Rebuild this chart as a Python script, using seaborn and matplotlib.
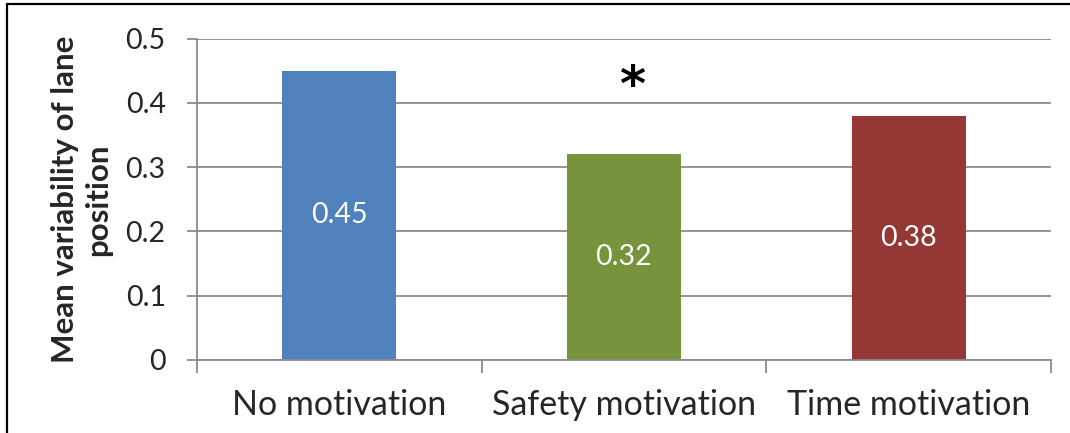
import matplotlib
matplotlib.use("Agg")
import matplotlib.pyplot as plt
from matplotlib.lines import Line2D
import seaborn as sns
import pandas as pd

conditions = ["No motivation", "Safety motivation", "Time motivation"]
lane_variability = [0.45, 0.32, 0.38]
bar_colors = ["#4F81BD", "#77933C", "#953735"]
y_ticks = [0, 0.1, 0.2, 0.3, 0.4, 0.5]
y_label = "Mean variability of lane\nposition"
significance_mark = "*"

sns.set_theme(style="white")
plt.rcParams["font.family"] = ["Lato", "DejaVu Sans"]

df = pd.DataFrame({"condition": conditions, "value": lane_variability})

fig = plt.figure(figsize=(10.7, 4.33), dpi=100)
ax = fig.add_axes([197 / 1070, 73 / 433, 854 / 1070, 321.5 / 433])

sns.barplot(data=df, x="condition", y="value", hue="condition",
            palette=bar_colors, width=0.4, legend=False, ax=ax,
            saturation=1, edgecolor="none")

for container in ax.containers:
    ax.bar_label(container, fmt="%.2f", label_type="center",
                 color="white", fontsize=20.5)

ax.set_ylim(0, 0.5)
ax.set_xlim(-0.5, 2.5)
ax.set_yticks(y_ticks)
ax.set_yticklabels(["0", "0.1", "0.2", "0.3", "0.4", "0.5"], fontsize=20.5)
ax.yaxis.grid(True, color="#8c8c8c", linewidth=1.3)
ax.set_axisbelow(True)

# boundary ticks between categories, labels centred under each bar
ax.set_xticks([-0.5, 0.5, 1.5, 2.5])
ax.set_xticklabels([])
ax.set_xticks([0, 1, 2], minor=True)
ax.set_xticklabels(conditions, minor=True, fontsize=24.5)
ax.tick_params(axis="x", which="major", length=9, width=1.3,
               color="#8c8c8c", direction="out", bottom=True)
ax.tick_params(axis="x", which="minor", length=0, pad=21, bottom=True)
ax.tick_params(axis="y", length=7.5, width=1.3, color="#8c8c8c",
               direction="out", left=True, pad=15)

ax.set_xlabel("")
ax.set_ylabel(y_label, fontsize=22.5, fontweight="bold", labelpad=10,
              linespacing=1.2)

for side in ["top", "right"]:
    ax.spines[side].set_visible(False)
for side in ["left", "bottom"]:
    ax.spines[side].set_color("#8c8c8c")
    ax.spines[side].set_linewidth(1.3)

ax.text(1.03, 0.424, significance_mark, ha="center", va="center",
        fontsize=36, fontweight="bold", color="black",
        family=["DejaVu Sans"])

# outer chart frame
fig.add_artist(Line2D([7 / 1070, 7 / 1070], [0, 1 - 4 / 433],
                      transform=fig.transFigure, color="black", linewidth=1.6))
fig.add_artist(Line2D([7 / 1070, 1], [1 - 4 / 433, 1 - 4 / 433],
                      transform=fig.transFigure, color="black", linewidth=1.6))

fig.savefig("out.png", dpi=100)
